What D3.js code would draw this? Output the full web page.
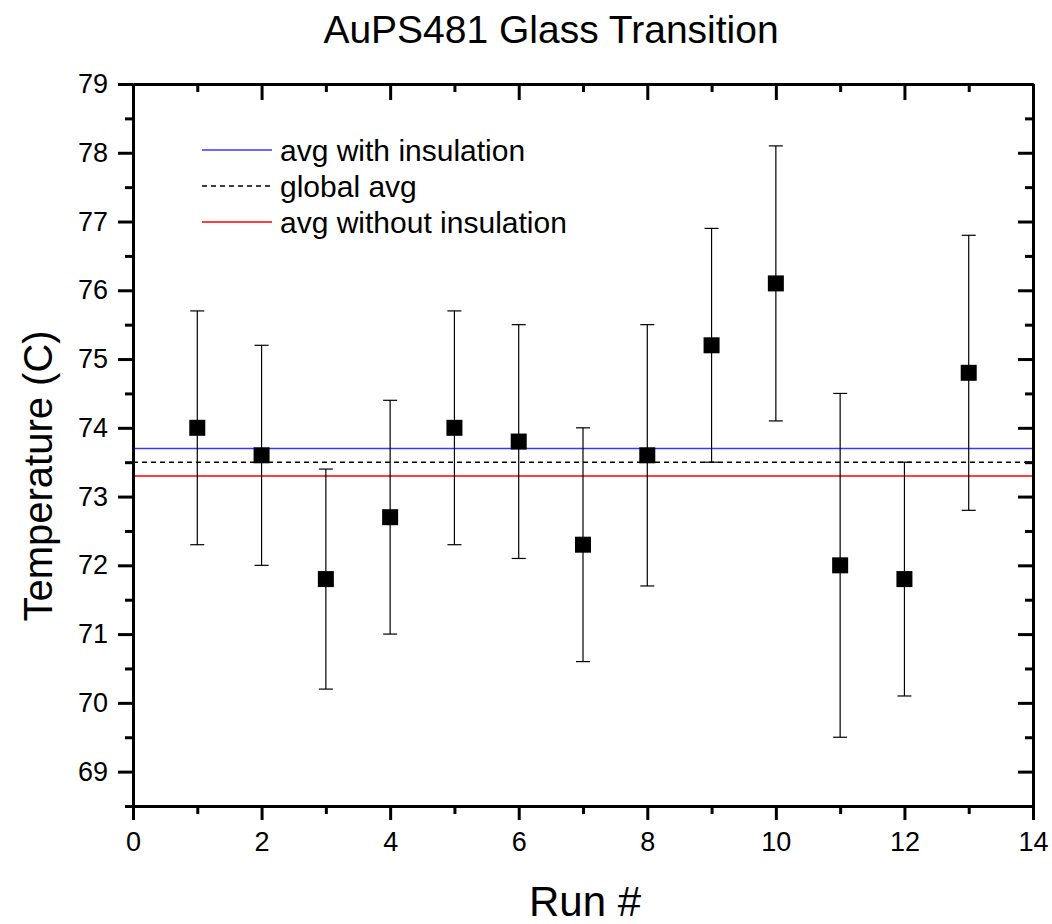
<!DOCTYPE html>
<html lang="en">

<head>
    <meta charset="utf-8">
    <script src="https://d3js.org/d3.v7.min.js"></script>
    <style>
        body { margin: 0; background: #fff; }
        text { font-family: "Liberation Sans", Arial, sans-serif; fill: #000; }
    </style>
</head>

<body>
    <script>
        // data
        const runs = [1, 2, 3, 4, 5, 6, 7, 8, 9, 10, 11, 12, 13];
        const temps = [74.0, 73.6, 71.8, 72.7, 74.0, 73.8, 72.3, 73.6, 75.2, 76.1, 72.0, 71.8, 74.8];
        const errLow = [72.3, 72.0, 70.2, 71.0, 72.3, 72.1, 70.6, 71.7, 73.5, 74.1, 69.5, 70.1, 72.8];
        const errHigh = [75.7, 75.2, 73.4, 74.4, 75.7, 75.5, 74.0, 75.5, 76.9, 78.1, 74.5, 73.5, 76.8];

        const avgNames = ["avg with insulation", "global avg", "avg without insulation"];
        const avgValues = [73.7, 73.5, 73.3];
        const avgColors = ["#3a3aff", "#000", "#ff0000"];
        const avgDash = [null, "5,4", null];

        const xTicks = [0, 2, 4, 6, 8, 10, 12, 14];
        const xMinor = [1, 3, 5, 7, 9, 11, 13];
        const yTicks = [69, 70, 71, 72, 73, 74, 75, 76, 77, 78, 79];
        const yMinor = [68.5, 69.5, 70.5, 71.5, 72.5, 73.5, 74.5, 75.5, 76.5, 77.5, 78.5];

        const margin = { top: 84, right: 19, bottom: 118, left: 133 };
        const W = 1052, H = 924;
        const w = W - margin.left - margin.right;
        const h = H - margin.top - margin.bottom;

        const x = d3.scaleLinear().domain([0, 14]).range([0, w]);
        const y = d3.scaleLinear().domain([68.5, 79]).range([h, 0]);

        const root = d3.select("body").append("svg")
            .attr("width", W)
            .attr("height", H);

        root.append("text")
            .attr("x", 551)
            .attr("y", 43)
            .attr("text-anchor", "middle")
            .style("font-size", "39px")
            .text("AuPS481 Glass Transition");

        root.append("text")
            .attr("transform", "translate(52," + 476 + ") rotate(-90)")
            .attr("text-anchor", "middle")
            .style("font-size", "40px")
            .text("Temperature (C)");

        root.append("text")
            .attr("x", 585)
            .attr("y", 916)
            .attr("text-anchor", "middle")
            .style("font-size", "42px")
            .text("Run #");

        const svg = root.append("g")
            .attr("transform", "translate(" + margin.left + "," + margin.top + ")");

        // average lines
        avgValues.forEach((v, i) => {
            svg.append("line")
                .attr("x1", 0).attr("x2", w)
                .attr("y1", y(v)).attr("y2", y(v))
                .attr("stroke", avgColors[i])
                .attr("stroke-width", 1.6)
                .attr("stroke-dasharray", avgDash[i]);
        });

        // error bars
        const capW = 7;
        const eb = svg.selectAll(".err")
            .data(runs)
            .enter()
            .append("g")
            .attr("class", "err")
            .attr("stroke", "#000")
            .attr("stroke-width", 1.2);
        eb.append("line")
            .attr("x1", d => x(d)).attr("x2", d => x(d))
            .attr("y1", (d, i) => y(errLow[i])).attr("y2", (d, i) => y(errHigh[i]));
        eb.append("line")
            .attr("x1", d => x(d) - capW).attr("x2", d => x(d) + capW)
            .attr("y1", (d, i) => y(errLow[i])).attr("y2", (d, i) => y(errLow[i]));
        eb.append("line")
            .attr("x1", d => x(d) - capW).attr("x2", d => x(d) + capW)
            .attr("y1", (d, i) => y(errHigh[i])).attr("y2", (d, i) => y(errHigh[i]));

        // square markers
        const ms = 16;
        svg.selectAll(".pt")
            .data(runs)
            .enter()
            .append("rect")
            .attr("class", "pt")
            .attr("x", d => x(d) - ms / 2)
            .attr("y", (d, i) => y(temps[i]) - ms / 2)
            .attr("width", ms)
            .attr("height", ms)
            .attr("fill", "#000");

        // axes: left/bottom ticks outward, top/right inward
        function styleAxis(g) {
            g.selectAll("path").attr("stroke", "#000").attr("stroke-width", 3);
            g.selectAll("line").attr("stroke", "#000").attr("stroke-width", 3);
            g.selectAll("text").style("font-size", "27px").attr("fill", "#000");
        }

        svg.append("g")
            .attr("transform", "translate(0," + h + ")")
            .call(d3.axisBottom(x).tickValues(xTicks).tickSize(14).tickSizeOuter(0).tickPadding(12))
            .call(styleAxis);
        svg.append("g")
            .attr("transform", "translate(0," + h + ")")
            .call(d3.axisBottom(x).tickValues(xMinor).tickSize(8).tickSizeOuter(0).tickFormat(""))
            .call(styleAxis);

        svg.append("g")
            .call(d3.axisTop(x).tickValues(xTicks).tickSize(-16).tickSizeOuter(0).tickFormat(""))
            .call(styleAxis);
        svg.append("g")
            .call(d3.axisTop(x).tickValues(xMinor).tickSize(-8).tickSizeOuter(0).tickFormat(""))
            .call(styleAxis);

        svg.append("g")
            .call(d3.axisLeft(y).tickValues(yTicks).tickSize(15).tickSizeOuter(0).tickPadding(10))
            .call(styleAxis);
        svg.append("g")
            .call(d3.axisLeft(y).tickValues(yMinor).tickSize(8).tickSizeOuter(0).tickFormat(""))
            .call(styleAxis);

        svg.append("g")
            .attr("transform", "translate(" + w + ",0)")
            .call(d3.axisRight(y).tickValues(yTicks).tickSize(-15).tickSizeOuter(0).tickFormat(""))
            .call(styleAxis);
        svg.append("g")
            .attr("transform", "translate(" + w + ",0)")
            .call(d3.axisRight(y).tickValues(yMinor).tickSize(-8).tickSizeOuter(0).tickFormat(""))
            .call(styleAxis);

        // legend
        const legend = root.append("g").attr("transform", "translate(202,0)");
        avgNames.forEach((name, i) => {
            const by = 161 + i * 36;
            legend.append("line")
                .attr("x1", 0).attr("x2", 70)
                .attr("y1", by - 11).attr("y2", by - 11)
                .attr("stroke", avgColors[i])
                .attr("stroke-width", 1.6)
                .attr("stroke-dasharray", avgDash[i]);
            legend.append("text")
                .attr("x", 78)
                .attr("y", by)
                .style("font-size", "30px")
                .text(name);
        });
    </script>
</body>

</html>
